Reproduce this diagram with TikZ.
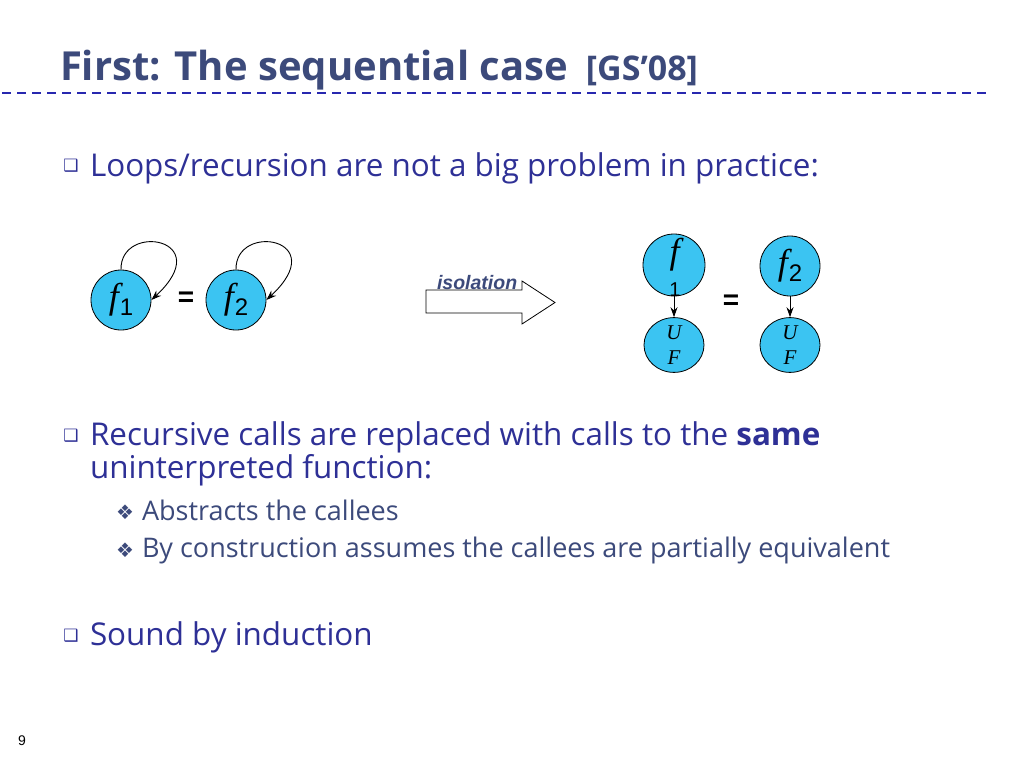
\documentclass[tikz,border=0pt]{standalone}
\usepackage{fontspec}
\setmainfont{Open Sans}
\newfontfamily\symfont{DejaVu Sans}
\newfontfamily\arialfont{Liberation Sans}
\newfontfamily\serifit[ItalicFont=* Italic]{Liberation Serif}
\usetikzlibrary{arrows.meta,shapes.geometric}
\definecolor{titlec}{RGB}{60,74,123}
\definecolor{bodyc}{RGB}{46,48,150}
\definecolor{subc}{RGB}{60,74,123}
\definecolor{dashc}{RGB}{40,40,175}
\definecolor{cyanf}{RGB}{59,196,242}
\tikzset{
  txt/.style={anchor=base west, inner sep=0pt, outer sep=0pt},
  bul/.style={inner sep=0pt, text=bodyc, font=\symfont\fontsize{17}{17}\selectfont},
  sbul/.style={inner sep=0pt, text=subc, font=\symfont\fontsize{20}{20}\selectfont},
  maintext/.style={txt, text=bodyc, font=\fontsize{31.4}{36}\selectfont},
  subtext/.style={txt, text=subc, font=\fontsize{27}{32}\selectfont},
  fcirc/.style={circle, draw=black, line width=0.8pt, fill=cyanf, minimum size=60pt, inner sep=0pt},
  ufell/.style={ellipse, draw=black, line width=0.8pt, fill=cyanf, minimum width=60pt, minimum height=46pt, inner sep=0pt, align=center, font=\serifit\itshape\fontsize{21}{25}\selectfont},
  conn/.style={draw=black, line width=0.9pt, -{Stealth[length=10pt,width=7pt]}},
  eqs/.style={inner sep=0pt, font=\arialfont\bfseries\fontsize{28}{28}\selectfont},
}
\newcommand{\fsym}{{\serifit\itshape\fontsize{36}{36}\selectfont f\kern1pt}}
\newcommand{\flab}[1]{\fsym\raisebox{-7pt}{\arialfont\fontsize{24}{24}\selectfont #1}}
\begin{document}
\begin{tikzpicture}[x=1pt,y=-1pt]
\useasboundingbox (0,0) rectangle (1024,768);
\fill[white] (0,0) rectangle (1024,768);

% title
\node[txt, text=titlec, font=\bfseries\fontsize{40}{46}\selectfont] (title) at (60,80)
  {First: The sequential case\hspace{18pt}{\fontsize{34}{36}\selectfont[GS’08]}};
\draw[dashc, line width=2pt, dash pattern=on 9pt off 6pt] (2,93) -- (990,93);

% bullet 1
\node[bul] (b1) at (71,166) {❑};
\node[maintext] (t1) at (90,176) {Loops/recursion are not a big problem in practice:};

% left diagram
\node[fcirc] (f1) at (121,300) {\flab{1}};
\node[fcirc] (f2) at (236,300) {\flab{2}};
\node[eqs] (eq1) at (186,299) {=};
\draw[conn] (f1.north) .. controls (120,222) and (218,238) .. (f1.east);
\draw[conn] (f2.north) .. controls (235,222) and (333,238) .. (f2.east);

% isolation arrow
\draw[black, line width=0.8pt, fill=white] (426,290) -- (522,290) -- (522,281) -- (555,302.5) -- (522,324) -- (522,313) -- (426,313) -- cycle;
\node[txt, text=titlec, font=\arialfont\bfseries\itshape\fontsize{19.5}{20}\selectfont] (iso) at (437,289) {isolation};

% right diagram
\node[fcirc, minimum size=62pt] (g1) at (674,265) {};
\node[inner sep=0pt] (g1f) at (675,255) {\fsym};
\node[inner sep=0pt, font=\arialfont\fontsize{20}{20}\selectfont] (g1n) at (675,290) {1};
\node[ufell] (u1) at (674,345) {U\\F};
\draw[conn] (g1.south) -- (u1.north);

\node[fcirc] (g2) at (790,266) {\flab{2}};
\node[ufell] (u2) at (790,345) {U\\F};
\draw[conn] (g2.south) -- (u2.north);
\node[eqs] (eq2) at (731,302) {=};

% bullet 2
\node[bul] (b2) at (71,436) {❑};
\node[maintext] (t2) at (90,445) {Recursive calls are replaced with calls to the \textbf{same}};
\node[maintext] (t2b) at (90,478) {uninterpreted function:};
\node[sbul] (s1) at (125,512) {❖};
\node[subtext] (st1) at (142,520) {Abstracts the callees};
\node[sbul] (s2) at (125,550) {❖};
\node[subtext] (st2) at (142,557) {By construction assumes the callees are partially equivalent};

% bullet 3
\node[bul] (b3) at (71,636) {❑};
\node[maintext] (t3) at (90,645) {Sound by induction};

% page number
\node[inner sep=0pt, font=\arialfont\fontsize{14}{14}\selectfont] (pg) at (22,741) {9};
\end{tikzpicture}
\end{document}
